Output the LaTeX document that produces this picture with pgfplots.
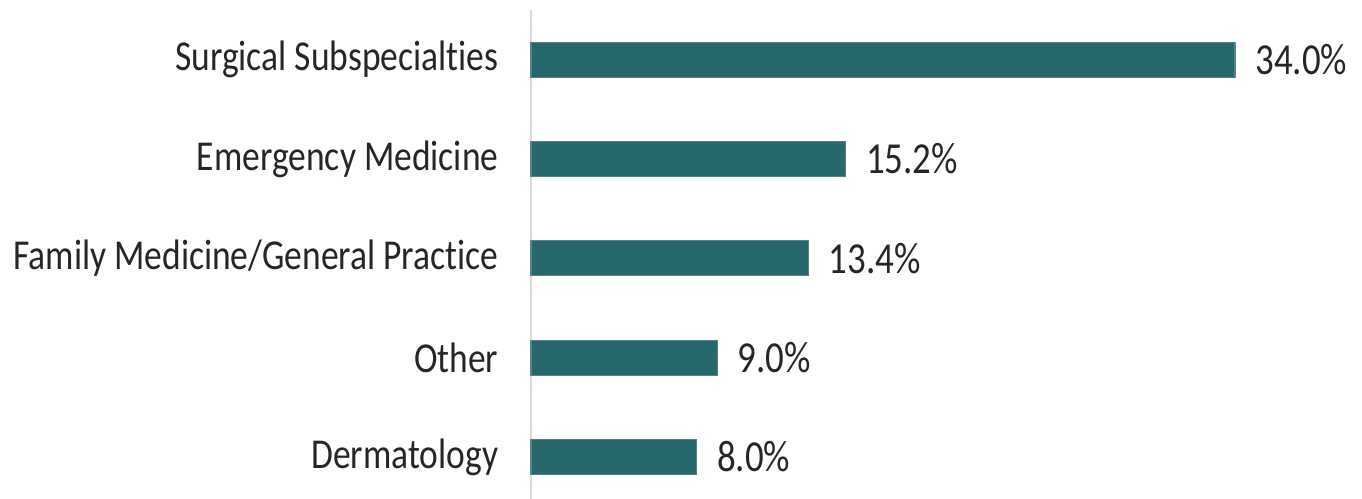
\documentclass[border=0pt]{standalone}
\usepackage{pgfplots}
\usepackage{graphicx}
\usepackage{fontspec}
\pgfplotsset{compat=1.18}
\setmainfont{Carlito}[Ligatures=NoCommon]
\definecolor{barteal}{HTML}{26676B}
\definecolor{axgray}{HTML}{D9D9D9}
\definecolor{txt}{HTML}{262626}
\newcommand{\tall}[1]{\scalebox{1}[1.2]{#1}}

\begin{document}
\begin{tikzpicture}
\begin{axis}[
  name=ax,
  xbar,
  scale only axis,
  width=70.4mm,
  height=48.86mm,
  xmin=0, xmax=34,
  ymin=-0.42, ymax=4.5,
  bar width=3.5mm,
  bar shift=0pt,
  hide x axis,
  axis y line*=left,
  y axis line style={-, draw=axgray, line width=0.6pt},
  ytick={0,1,2,3,4},
  yticklabels={\tall{Dermatology},\tall{Other},\tall{Family Medicine/General Practice},\tall{Emergency Medicine},\tall{Surgical Subspecialties}},
  ytick style={draw=none},
  yticklabel style={font=\fontsize{10.1}{12}\selectfont, text=txt, inner sep=0pt, xshift=-1.7mm},
  /pgf/number format/assume math mode=true,
  nodes near coords={\tall{\pgfmathprintnumber[fixed,fixed zerofill,precision=1,assume math mode=true]{\pgfplotspointmeta}\%}},
  nodes near coords style={font=\fontsize{10.5}{12}\selectfont, text=txt, anchor=west, inner sep=0pt, xshift=2mm},
  clip=false,
]
\addplot[fill=barteal, draw=barteal!80!white, line width=0.3pt] coordinates {
  (8.0,0) (9.0,1) (13.4,2) (15.2,3) (34.0,4)
};
\end{axis}
\pgfresetboundingbox
\path ([xshift=-53.1mm,yshift=-0.03mm]ax.south west) rectangle ([xshift=12.7mm,yshift=1mm]ax.north east);
\end{tikzpicture}
\end{document}
